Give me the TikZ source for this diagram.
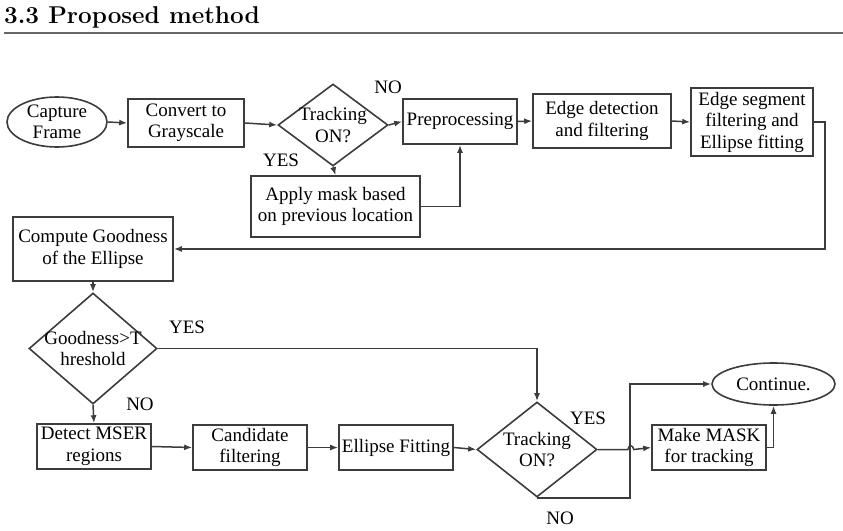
\documentclass[tikz,border=0pt]{standalone}
\usepackage{fontspec}
\newfontfamily\tnr{Liberation Serif}
\usetikzlibrary{arrows.meta,shapes.geometric}
\definecolor{ln}{HTML}{3C3C3C}
\begin{document}
\begin{tikzpicture}[x=1pt,y=-1pt,
  txt/.style={font=\tnr\fontsize{19}{21.5}\selectfont, align=center, text=black},
  box/.style={draw=ln, line width=1.6pt, rectangle, inner sep=0pt, txt},
  ell/.style={draw=ln, line width=1.6pt, ellipse, inner sep=0pt, txt},
  dia/.style={draw=ln, line width=1.6pt, diamond, inner sep=0pt},
  lbl/.style={txt, inner sep=0pt},
  arr/.style={draw=ln, line width=1.5pt, -{Latex[length=8pt,width=6pt]}}]
\useasboundingbox (0,0) rectangle (843,530);
% title
\node[anchor=base west, inner sep=0pt, font=\bfseries\fontsize{24.3}{29}\selectfont] (title) at (4,23.5) {3.3 Proposed method};
\coordinate (r1) at (4,32.5);
\coordinate (r2) at (843,32.5);
\draw[line width=2pt, draw=black!60] (r1) -- (r2);
% top row
\node[ell, minimum width=100pt, minimum height=50pt] (cap) at (57,122) {Capture\\Frame};
\node[box, minimum width=116pt, minimum height=48pt] (gray) at (186,123) {Convert to\\Grayscale};
\node[dia, minimum width=110pt, minimum height=82pt] (trk1) at (333,125) {};
\node[lbl] (trk1t) at (trk1.center) {Tracking\\ON?};
\node[box, minimum width=169pt, minimum height=61pt] (mask) at (335.5,206.5) {Apply mask based\\on previous location};
\node[box, minimum width=114pt, minimum height=45pt] (pre) at (460,121.5) {Preprocessing};
\node[box, minimum width=138pt, minimum height=54pt] (edge) at (602,121) {Edge detection\\and filtering};
\node[box, minimum width=122pt, minimum height=68pt] (seg) at (752,122) {Edge segment\\filtering and\\Ellipse fitting};
% middle
\node[box, minimum width=160pt, minimum height=64pt] (cg) at (93,249) {Compute Goodness\\of the Ellipse};
\node[dia, minimum width=128pt, minimum height=111pt] (gd) at (93,348.5) {};
\node[lbl] (gdt) at (gd.center) {Goodness>T\\hreshold};
% bottom row
\node[box, minimum width=114pt, minimum height=45pt] (mser) at (94,446.5) {Detect MSER\\regions};
\node[box, minimum width=114pt, minimum height=45pt] (cand) at (250,447.5) {Candidate\\filtering};
\node[box, minimum width=114pt, minimum height=45pt] (ef) at (396,447.5) {Ellipse Fitting};
\node[dia, minimum width=120pt, minimum height=95pt] (trk2) at (537,449.5) {};
\node[lbl] (trk2t) at (trk2.center) {Tracking\\ON?};
\node[box, minimum width=114pt, minimum height=45pt] (mm) at (709,447.5) {Make MASK\\for tracking};
\node[ell, minimum width=123pt, minimum height=42pt] (cont) at (773.5,384) {Continue.};
% labels
\node[lbl] (l1) at (388,87) {NO};
\node[lbl] (l2) at (281,160) {YES};
\node[lbl] (l3) at (187,327) {YES};
\node[lbl] (l4) at (140,404) {NO};
\node[lbl] (l5) at (588,418) {YES};
\node[lbl] (l6) at (560,518) {NO};
% connectors
\path[arr] (cap.east) -- (gray.west);
\path[arr] (gray.east) -- (trk1.west);
\path[arr] (trk1.east) -- (pre.west);
\path[arr] (trk1.south) -- (mask.north);
\path[arr] (mask.east) -| (pre.south);
\path[arr] (pre.east) -- (edge.west);
\path[arr] (edge.east) -- (seg.west);
\path[arr] (seg.east) -- ++(11,0) |- (cg.east);
\path[arr] (cg.south) -- (gd.north);
\path[arr] (gd.east) -| (trk2.north);
\path[arr] (gd.south) -- (mser.north);
\path[arr] (mser.east) -- (cand.west);
\path[arr] (cand.east) -- (ef.west);
\path[arr] (ef.east) -- (trk2.west);
\path[arr] (trk2.east) -- ++(30,0) .. controls ++(1,-5) and ++(-1,-5) .. ++(6,0) -- (mm.west);
\path[arr] (trk2.south) -- ++(93,0) |- (cont.west);
\path[arr] (mm.east) -| (cont.south);
\end{tikzpicture}
\end{document}
